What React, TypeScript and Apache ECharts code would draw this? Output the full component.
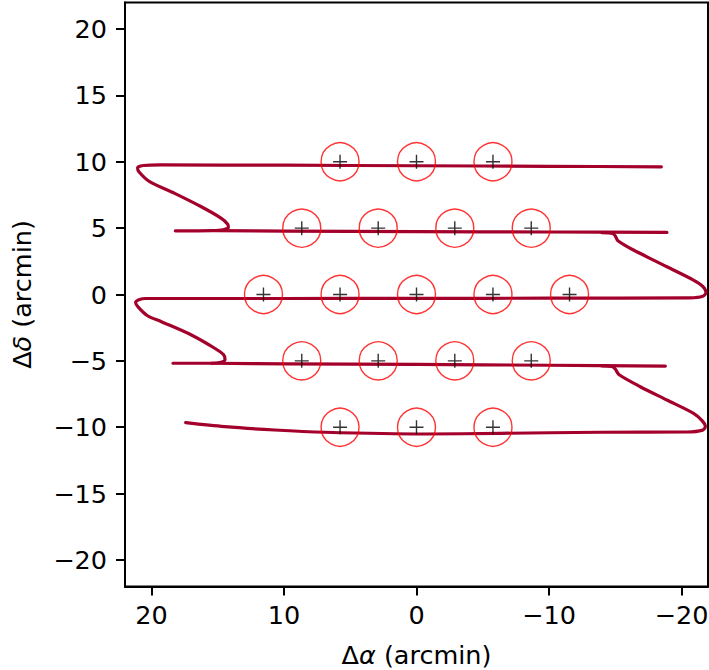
import React, { useEffect, useRef } from 'react';
import * as echarts from 'echarts';

// Tick values
const xTicks = [20, 10, 0, -10, -20];
const yTicks = [-20, -15, -10, -5, 0, 5, 10, 15, 20];

// Beam (pointing) positions in arcmin
const beamX = [5.77, 0, -5.77, 8.66, 2.89, -2.89, -8.66, 11.55, 5.77, 0, -5.77, -11.55, 8.66, 2.89, -2.89, -8.66, 5.77, 0, -5.77];
const beamY = [10, 10, 10, 5, 5, 5, 5, 0, 0, 0, 0, 0, -5, -5, -5, -5, -10, -10, -10];

// Scan trajectory (arcmin); NaN separates pieces
const scanX = [
  -18.48, -10, 0, 10, 19.3, 20.6, 21.05, 20.95, 20.14, 18.25, 16.24, 14.73, 14.25, 14.2, 14.6, 15.4, 18.2,
  NaN,
  15.23, 10, 0, -10, -18.9,
  NaN,
  -14.0, -14.8, -15.0, -15.2, -16.37, -18.9, -20.9, -21.6, -21.85, -21.6, -20.66, -10, 0, 10, 20.44, 20.95, 21.2, 21.0, 20.3, 19.25, 16.99, 15.23, 14.55, 14.45, 14.75, 15.48, 18.38,
  NaN,
  15.48, 10, 0, -10, -18.78,
  NaN,
  -14.0, -14.8, -15.0, -15.3, -16.89, -18.9, -20.91, -21.55, -21.8, -21.6, -20.41, -13.88, -6.33, -0.6, 6.94, 10.71, 14.48, 17.42,
];
const scanY = [
  9.62, 9.66, 9.7, 9.74, 9.76, 9.72, 9.55, 9.25, 8.5, 7.62, 6.61, 5.74, 5.3, 5.05, 4.88, 4.82, 4.8,
  NaN,
  4.82, 4.78, 4.74, 4.71, 4.68,
  NaN,
  4.66, 4.6, 4.42, 4.05, 3.35, 2.09, 1.09, 0.62, 0.15, -0.14, -0.26, -0.28, -0.29, -0.3, -0.3, -0.4, -0.6, -0.95, -1.6, -2.05, -3.05, -4.05, -4.55, -4.9, -5.1, -5.18, -5.18,
  NaN,
  -5.18, -5.22, -5.27, -5.33, -5.39,
  NaN,
  -5.38, -5.44, -5.62, -6.05, -6.95, -7.95, -8.95, -9.5, -9.95, -10.22, -10.36, -10.38, -10.46, -10.51, -10.38, -10.21, -9.96, -9.66,
];

const FONT = 'DejaVu Sans';

export default function App() {
  const ref = useRef<HTMLDivElement>(null);
  useEffect(() => {
    const chart = echarts.init(ref.current as HTMLDivElement, null, { renderer: 'svg' });
    const fmt = (v: number) => (v < 0 ? '\u2212' + Math.abs(v) : String(v));

    const segments: number[][][] = [];
    let cur: number[][] = [];
    scanX.forEach((x, i) => {
      if (Number.isNaN(x)) {
        if (cur.length) segments.push(cur);
        cur = [];
      } else cur.push([x, scanY[i]]);
    });
    if (cur.length) segments.push(cur);

    const lineSeries = segments.map((seg) => ({
      type: 'line',
      data: seg,
      showSymbol: false,
      symbol: 'none',
      smooth: 0.3,
      lineStyle: { color: '#a3002c', width: 3.2, join: 'round', cap: 'round' },
      z: 2,
      silent: true,
    }));

    const beams = beamX.map((x, i) => [x, beamY[i]]);

    const axisCommon = {
      type: 'value',
      min: -22,
      max: 22,
      splitLine: { show: false },
      axisLine: { show: true, onZero: false, lineStyle: { color: '#000', width: 2 } },
    };

    chart.setOption({
      animation: false,
      backgroundColor: '#fff',
      grid: {
        left: 125,
        right: 1,
        top: 2.5,
        bottom: 83.5,
        show: true,
        borderColor: '#000',
        borderWidth: 2,
        backgroundColor: 'transparent',
        containLabel: false,
        outerBoundsMode: 'none',
      },
      xAxis: {
        ...axisCommon,
        inverse: true,
        axisTick: { show: true, customValues: xTicks, length: 9, lineStyle: { color: '#000', width: 2 } },
        axisLabel: {
          customValues: xTicks,
          formatter: fmt,
          color: '#000',
          fontFamily: FONT,
          fontSize: 25.5,
          margin: 15,
          hideOverlap: false,
        },
      },
      yAxis: {
        ...axisCommon,
        axisTick: { show: true, customValues: yTicks, length: 9, lineStyle: { color: '#000', width: 2 } },
        axisLabel: {
          customValues: yTicks,
          formatter: fmt,
          color: '#000',
          fontFamily: FONT,
          fontSize: 25.5,
          margin: 18,
        },
      },
      series: [
        ...lineSeries,
        {
          type: 'scatter',
          data: beams,
          symbol: 'circle',
          symbolSize: 38,
          itemStyle: { color: 'transparent', borderColor: '#ff0000', borderWidth: 1.4 },
          z: 3,
          silent: true,
        },
        {
          type: 'scatter',
          data: beams,
          symbol: 'path://M0 7H14M7 0V14',
          symbolSize: 14,
          itemStyle: { color: 'transparent', borderColor: '#000', borderWidth: 1.4 },
          z: 4,
          silent: true,
        },
      ],
      graphic: [
        {
          type: 'text',
          x: 416.5,
          y: 655,
          style: {
            text: '{n|\u0394}{i|\u03b1}{n| (arcmin)}',
            align: 'center',
            verticalAlign: 'middle',
            rich: {
              n: { fontFamily: FONT, fontSize: 25.5, fill: '#000' },
              i: { fontFamily: FONT, fontSize: 25.5, fontStyle: 'italic', fill: '#000' },
            },
          },
        },
        {
          type: 'text',
          x: 22,
          y: 294.5,
          rotation: Math.PI / 2,
          style: {
            text: '{n|\u0394}{i|\u03b4}{n| (arcmin)}',
            align: 'center',
            verticalAlign: 'middle',
            rich: {
              n: { fontFamily: FONT, fontSize: 25.5, fill: '#000' },
              i: { fontFamily: FONT, fontSize: 25.5, fontStyle: 'italic', fill: '#000' },
            },
          },
        },
      ],
    });
    return () => chart.dispose();
  }, []);
  return (
    <div
      ref={ref}
      style={{ position: 'fixed', left: 0, top: 0, width: 709, height: 670, background: '#fff' }}
    />
  );
}
